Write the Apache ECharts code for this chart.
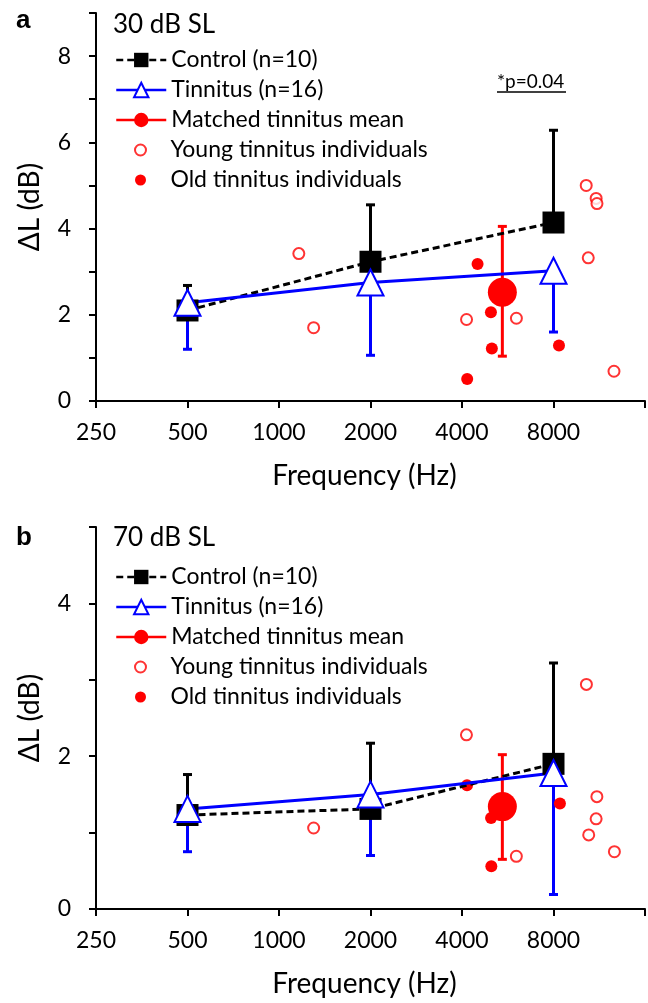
<!DOCTYPE html>
<html>
<head>
<meta charset="utf-8">
<script src="https://cdn.jsdelivr.net/npm/echarts@6/dist/echarts.min.js"></script>
<style>
  html, body { margin: 0; padding: 0; background: #fff; overflow: hidden; }
  #panelA { width: 648px; height: 500px; }
  #panelB { width: 648px; height: 503px; }
</style>
</head>
<body>
<div id="panelA"></div>
<div id="panelB"></div>
<script>
// frequencies (Hz) of the group means
var groupFreqs = [500, 2000, 8000]
var freqTicks = [250, 500, 1000, 2000, 4000, 8000]

// panel a, 30 dB SL
var controlA = [2.1, 3.23, 4.14]
var controlUpA = [2.68, 4.55, 6.28]
var tinnitusA = [2.28, 2.75, 3.02]
var tinnitusLowA = [1.2, 1.06, 1.6]
var matchedFreq = 5430
var matchedA = [2.52]
var matchedLowA = [1.04]
var matchedUpA = [4.05]
var youngFreqA = [1162, 1300, 4140, 6040, 10250, 11050, 11120, 10410, 12650]
var youngA = [3.42, 1.70, 1.89, 1.92, 5.00, 4.70, 4.58, 3.32, 0.69]
var oldFreqA = [4500, 4980, 5015, 4160, 8340]
var oldA = [3.18, 2.06, 1.22, 0.51, 1.29]

// panel b, 70 dB SL
var controlB = [1.23, 1.31, 1.90]
var controlUpB = [1.76, 2.17, 3.22]
var tinnitusB = [1.31, 1.50, 1.78]
var tinnitusLowB = [0.75, 0.70, 0.19]
var matchedB = [1.34]
var matchedLowB = [0.65]
var matchedUpB = [2.02]
var youngFreqB = [1300, 4137, 6038, 10265, 11112, 11049, 10445, 12690]
var youngB = [1.06, 2.28, 0.69, 2.94, 1.47, 1.18, 0.97, 0.75]
var oldFreqB = [4155, 4986, 4995, 8400]
var oldB = [1.62, 1.19, 0.56, 1.38]

var FONT = 'Lato, "Noto Sans", sans-serif'
var RED = '#ff0000'
var BLUE = '#0000ff'
var names = ['Control (n=10)', 'Tinnitus (n=16)', 'Matched tinnitus mean',
  'Young tinnitus individuals', 'Old tinnitus individuals']

// octaves above 250 Hz
function oct (f) { return Math.log2(f / 250) }

function pairs (freqs, vals) {
  return vals.map(function (v, i) { return [oct(freqs[i]), v] })
}
function bars (freqs, lo, hi) {
  return lo.map(function (v, i) { return [oct(freqs[i]), v, hi[i]] })
}

// vertical error bar, cap only on the ends listed in caps
function errBar (caps) {
  return function (params, api) {
    var p0 = api.coord([api.value(0), api.value(1)])
    var p1 = api.coord([api.value(0), api.value(2)])
    var style = { stroke: api.visual('color'), lineWidth: 3 }
    var kids = [{ type: 'line', shape: { x1: p0[0], y1: p0[1], x2: p1[0], y2: p1[1] }, style: style }]
    if (caps.lo) kids.push({ type: 'line', shape: { x1: p0[0] - 4.5, y1: p0[1], x2: p0[0] + 4.5, y2: p0[1] }, style: style })
    if (caps.hi) kids.push({ type: 'line', shape: { x1: p1[0] - 4.5, y1: p1[1], x2: p1[0] + 4.5, y2: p1[1] }, style: style })
    return { type: 'group', children: kids }
  }
}

function buildPanel (el, cfg) {
  var chart = echarts.init(document.getElementById(el))
  var axisLine = { lineStyle: { color: '#000', width: 2 } }
  var legendText = { fontSize: 23, color: '#000', fontFamily: FONT, lineHeight: 30 }
  chart.setOption({
    animation: false,
    textStyle: { fontFamily: FONT },
    grid: { left: 96, right: -6, top: cfg.top, bottom: cfg.bottom },
    xAxis: {
      type: 'value',
      min: 0,
      max: 6,
      interval: 1,
      name: 'Frequency (Hz)',
      nameLocation: 'middle',
      nameGap: 61,
      nameTextStyle: { fontSize: 28, color: '#000', fontFamily: FONT, padding: [0, 12, 0, 0] },
      axisLine: axisLine,
      axisTick: { length: 7, lineStyle: { width: 2, color: '#000' } },
      axisLabel: {
        fontSize: 23,
        color: '#000',
        fontFamily: FONT,
        margin: 20,
        formatter: function (v) { return v <= 5 ? String(freqTicks[v]) : '' }
      },
      splitLine: { show: false }
    },
    yAxis: {
      type: 'value',
      min: 0,
      max: cfg.yMax,
      interval: 1,
      name: 'ΔL (dB)',
      nameLocation: 'middle',
      nameGap: 52,
      nameTextStyle: { fontSize: 28, color: '#000', fontFamily: FONT },
      axisLine: axisLine,
      axisTick: { length: 7, lineStyle: { width: 2, color: '#000' } },
      axisLabel: {
        fontSize: 23,
        color: '#000',
        fontFamily: FONT,
        margin: 25,
        formatter: function (v) { return v % 2 === 0 ? String(v) : '' }
      },
      splitLine: { show: false }
    },
    legend: [{
      data: names.slice(0, 3),
      orient: 'vertical',
      left: 115,
      top: cfg.legendTop,
      padding: 0,
      itemGap: 0,
      itemWidth: 50,
      itemHeight: 18,
      selectedMode: false,
      lineStyle: { width: 2.5 },
      textStyle: legendText
    }, {
      data: names.slice(3),
      orient: 'vertical',
      left: 134,
      top: cfg.legendTop + 90,
      padding: 0,
      itemGap: 0,
      itemWidth: 50,
      itemHeight: 11,
      selectedMode: false,
      textStyle: legendText
    }],
    graphic: cfg.graphic,
    series: [
      {
        name: 'matchedErr',
        type: 'custom',
        renderItem: errBar({ lo: true, hi: true }),
        itemStyle: { color: RED },
        encode: { x: 0, y: [1, 2] },
        data: bars([matchedFreq], cfg.matchedLow, cfg.matchedUp)
      },
      {
        name: names[2],
        type: 'line',
        symbol: 'circle',
        symbolSize: 29,
        itemStyle: { color: RED },
        lineStyle: { color: RED, width: 3 },
        data: pairs([matchedFreq], cfg.matched)
      },
      {
        name: 'controlErr',
        type: 'custom',
        renderItem: errBar({ hi: true }),
        itemStyle: { color: '#000' },
        encode: { x: 0, y: [1, 2] },
        data: bars(groupFreqs, cfg.control, cfg.controlUp)
      },
      {
        name: names[0],
        type: 'line',
        symbol: 'rect',
        symbolSize: 22,
        itemStyle: { color: '#000' },
        lineStyle: { color: '#000', width: 3, type: [7, 4] },
        data: pairs(groupFreqs, cfg.control)
      },
      {
        name: 'tinnitusErr',
        type: 'custom',
        renderItem: errBar({ lo: true }),
        itemStyle: { color: BLUE },
        encode: { x: 0, y: [1, 2] },
        data: bars(groupFreqs, cfg.tinnitusLow, cfg.tinnitus)
      },
      {
        name: names[1],
        type: 'line',
        symbol: 'emptyTriangle',
        symbolSize: 26,
        itemStyle: { color: BLUE, borderWidth: 3 },
        lineStyle: { color: BLUE, width: 3 },
        data: pairs(groupFreqs, cfg.tinnitus)
      },
      {
        name: names[3],
        type: 'scatter',
        symbol: 'emptyCircle',
        symbolSize: 11,
        itemStyle: { color: RED, borderWidth: 2 },
        data: pairs(cfg.youngFreq, cfg.young)
      },
      {
        name: names[4],
        type: 'scatter',
        symbol: 'circle',
        symbolSize: 12,
        itemStyle: { color: RED, opacity: 1 },
        data: pairs(cfg.oldFreq, cfg.old)
      }
    ]
  })
}

function label (txt, x, y, font) {
  return { type: 'text', style: { text: txt, x: x, y: y, font: font, fill: '#000', verticalAlign: 'middle' } }
}

buildPanel('panelA', {
  top: 13,
  bottom: 99,
  yMax: 9,
  legendTop: 45,
  control: controlA,
  controlUp: controlUpA,
  tinnitus: tinnitusA,
  tinnitusLow: tinnitusLowA,
  matched: matchedA,
  matchedLow: matchedLowA,
  matchedUp: matchedUpA,
  youngFreq: youngFreqA,
  young: youngA,
  oldFreq: oldFreqA,
  old: oldA,
  graphic: [
    label('a', 16, 21, 'bold 26px "Liberation Sans", Arial, sans-serif'),
    label('30 dB SL', 113, 25, '26px ' + FONT),
    label('*p=0.04', 497, 82, '19px ' + FONT),
    { type: 'line', shape: { x1: 497, y1: 92, x2: 566, y2: 92 }, style: { stroke: '#000', lineWidth: 1.5 } }
  ]
})

buildPanel('panelB', {
  top: 27,
  bottom: 88.5,
  yMax: 5,
  legendTop: 62,
  control: controlB,
  controlUp: controlUpB,
  tinnitus: tinnitusB,
  tinnitusLow: tinnitusLowB,
  matched: matchedB,
  matchedLow: matchedLowB,
  matchedUp: matchedUpB,
  youngFreq: youngFreqB,
  young: youngB,
  oldFreq: oldFreqB,
  old: oldB,
  graphic: [
    label('b', 16, 38, 'bold 26px "Liberation Sans", Arial, sans-serif'),
    label('70 dB SL', 113, 38, '26px ' + FONT)
  ]
})
</script>
</body>
</html>
